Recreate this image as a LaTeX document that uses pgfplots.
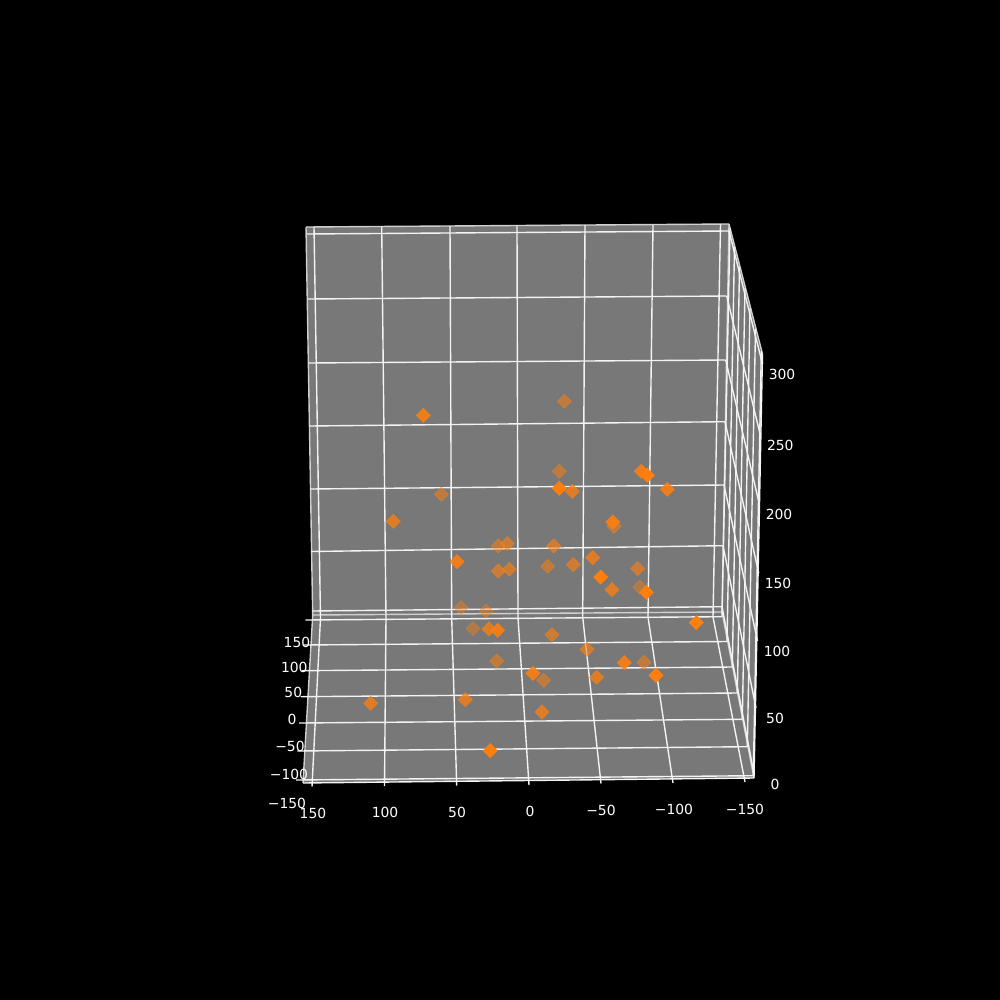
\documentclass[border=0pt]{standalone}
\usepackage{fontspec}
\setmainfont{DejaVu Sans}
\usepackage{pgfplots}
\usepackage{pgfplotstable}
\pgfplotsset{compat=1.18}

\definecolor{pane}{RGB}{120,120,120}
\definecolor{dot}{RGB}{255,127,14}

% marker positions (pixels), one table per shading level
\pgfplotstableread{
x y
639.7 587
486 611
473 628.6
461 607.6
}\shadeA
\pgfplotstableread{
x y
564.3 401.3
559.3 471.3
441.3 494.3
614 526.3
498.3 546
547.7 566.3
644 662.3
543.7 680.3
496.7 661
}\shadeB
\pgfplotstableread{
x y
507.3 543.6
553.7 546
498.3 571
509.3 569.3
573.3 564.6
637.7 568.6
552 634.6
587 649.3
}\shadeC
\pgfplotstableread{
x y
572.3 491.3
612 589.6
489 629
596.7 677.3
542 712
393.3 521.3
465.3 699.6
370.7 703.3
592.7 557.6
}\shadeD
\pgfplotstableread{
x y
423.3 415.3
641.3 471.3
667.3 489.3
612.7 522
457 561.6
497.7 630.3
624.3 662.6
533 673.3
}\shadeE
\pgfplotstableread{
x y
559.3 488.3
647.3 475.3
600.7 577
646.3 592.3
696.3 622.6
656 675.3
490.3 750.6
}\shadeF

\newcommand{\seg}[4]{\addplot[gridln] coordinates {(#1,#2)(#3,#4)};}
\newcommand{\edge}[4]{\addplot[edgeln] coordinates {(#1,#2)(#3,#4)};}
\newcommand{\lab}[3]{\node[white,inner sep=0pt,font=\fontsize{10}{12}\selectfont] at (axis cs:#1,#2) {#3};}

\begin{document}
\begin{tikzpicture}
\begin{axis}[
    scale only axis,
    width=720pt, height=720pt,
    xmin=0, xmax=1000,
    ymin=0, ymax=1000,
    y dir=reverse,
    axis lines=none,
    clip=false,
    gridln/.style={white!92!pane, line width=1pt, forget plot, mark=none},
    edgeln/.style={white!65!pane, line width=1pt, forget plot, mark=none},
    panefill/.style={fill=pane, draw=none, forget plot, mark=none},
    dots/.style={only marks, mark=square*, mark size=3.6pt,
        mark options={rotate=45, fill=dot, draw=dot, line width=0.4pt, opacity=#1}},
]
% background and panes
\addplot[fill=black, draw=none, forget plot] coordinates {(0,0)(1000,0)(1000,1000)(0,1000)} -- cycle;
\addplot[panefill] coordinates {(306,227)(729,224)(722,612)(312.7,615)} -- cycle;
\addplot[panefill] coordinates {(729,224)(762.5,354)(754,778)(722,612)} -- cycle;
\addplot[panefill] coordinates {(312.7,615)(722,612)(754,778)(303,783)} -- cycle;

% pane edges
\edge{306}{227}{729}{224}
\edge{306}{227}{312.7}{615}
\edge{729}{224}{722}{612}
\edge{312.7}{615}{722}{612}
\edge{722}{612}{754}{778}
\edge{729}{224}{762.5}{354}
\edge{312.7}{615}{303}{783}

% back wall, z lines
\seg{307}{234}{729}{231}
\seg{307.8}{299}{726.7}{296}
\seg{308.6}{363}{725.7}{360}
\seg{309.4}{426}{725}{421.7}
\seg{310.2}{489}{724}{485}
\seg{311}{551.5}{723}{545.7}
\seg{312.4}{611}{722}{606.7}

% right wall, z lines
\seg{729}{231}{762.5}{364}
\seg{726.7}{296}{760.3}{435}
\seg{725.7}{360}{759.3}{504}
\seg{725}{421.7}{758.7}{573}
\seg{724}{485}{757.5}{641}
\seg{723}{545.7}{756}{708}
\seg{722}{606.7}{754}{774}

% back wall and floor, x lines
\addplot[gridln] coordinates {(314,227)(320.5,618)(312,786.5)};
\addplot[gridln] coordinates {(381.7,226.5)(386,618)(384.5,786)};
\addplot[gridln] coordinates {(450,226)(451.7,618)(456.7,785.5)};
\addplot[gridln] coordinates {(517,225.5)(518,617.5)(529,785)};
\addplot[gridln] coordinates {(585,225)(582.7,617)(601,783.5)};
\addplot[gridln] coordinates {(653,225)(648,617)(673,783)};
\addplot[gridln] coordinates {(720.5,224.5)(713,617)(745,782)};

% floor, y lines
\seg{305.3}{620}{722}{616.7}
\seg{303.3}{645}{727}{641.5}
\seg{302}{670.7}{732.3}{667}
\seg{300.7}{696.7}{737.3}{693}
\seg{299}{723}{742.3}{719.3}
\seg{297.3}{751}{747.3}{746.7}
\seg{296}{780}{753.3}{775.7}

% right wall, y lines
\seg{730}{228}{722}{616.7}
\seg{734.5}{247}{727}{641.5}
\seg{739.5}{267}{732.3}{667}
\seg{745}{288}{737.3}{693}
\seg{750}{308}{742.3}{719.3}
\seg{755.5}{329}{747.3}{746.7}
\seg{761.3}{351}{753.3}{775.7}

% axis lines
\seg{303}{783}{754}{778}
\seg{762.5}{354}{754}{778}

% scatter
\addplot[dots=0.42] table[x=x,y=y] {\shadeA};
\addplot[dots=0.52] table[x=x,y=y] {\shadeB};
\addplot[dots=0.62] table[x=x,y=y] {\shadeC};
\addplot[dots=0.75] table[x=x,y=y] {\shadeD};
\addplot[dots=0.87] table[x=x,y=y] {\shadeE};
\addplot[dots=1] table[x=x,y=y] {\shadeF};

% tick labels
\lab{313}{813}{150}
\lab{385}{812.5}{100}
\lab{457}{812}{50}
\lab{530}{811}{0}
\lab{601}{810}{−50}
\lab{674}{809}{−100}
\lab{745}{809}{−150}

\lab{297}{642}{150}
\lab{294.3}{667}{100}
\lab{293.3}{692}{50}
\lab{292}{719}{0}
\lab{290}{746}{−50}
\lab{289}{774}{−100}
\lab{287}{803}{−150}

\lab{782}{374}{300}
\lab{780.3}{445}{250}
\lab{779}{514.5}{200}
\lab{778}{583}{150}
\lab{777}{651}{100}
\lab{775}{718}{50}
\lab{775}{784}{0}
\end{axis}
\end{tikzpicture}
\end{document}
